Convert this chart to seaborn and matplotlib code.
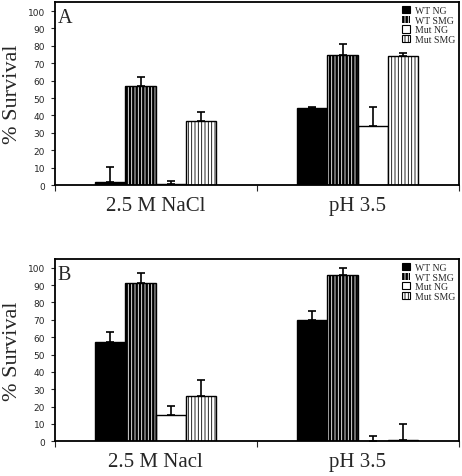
import matplotlib
matplotlib.use("Agg")
import matplotlib.pyplot as plt
import matplotlib.patches as mpatches
import seaborn as sns
import pandas as pd
import numpy as np

# ---- data ----
strains = ["WT NG", "WT SMG", "Mut NG", "Mut SMG"]
conditions_A = ["2.5 M NaCl", "pH 3.5"]
conditions_B = ["2.5 M Nacl", "pH 3.5"]

A_nacl = [2, 57, 0.7, 37]
A_ph = [44, 75, 34, 74]
A_nacl_err = [8.5, 5, 1.8, 5]
A_ph_err = [0.7, 6, 11, 2]

B_nacl = [57, 91, 15, 26]
B_ph = [70, 96, 0.3, 0.8]
B_nacl_err = [6, 6, 5.5, 9.5]
B_ph_err = [5, 4, 3, 9]

yticks = list(range(0, 101, 10))

# ---- styles ----
face = {"WT NG": "black", "WT SMG": "black", "Mut NG": "white", "Mut SMG": "white"}
hatchc = {"WT NG": None, "WT SMG": "white", "Mut NG": None, "Mut SMG": "black"}
HATCH = "|||||"

sns.set_style("white")
plt.rcParams["hatch.linewidth"] = 0.6
SERIF = ["Liberation Serif", "DejaVu Serif"]
SANS = ["DejaVu Sans"]

fig = plt.figure(figsize=(4.62, 4.77), dpi=100)
axA = fig.add_axes([0.1184, 0.610, 0.8745, 0.383])
axB = fig.add_axes([0.1184, 0.0727, 0.8745, 0.382])


def panel(ax, conds, v1, v2, e1, e2, letter):
    rows = []
    for s, a, b in zip(strains, v1, v2):
        rows.append({"cond": conds[0], "strain": s, "val": a})
        rows.append({"cond": conds[1], "strain": s, "val": b})
    df = pd.DataFrame(rows)
    errs = {s: (a, b) for s, a, b in zip(strains, e1, e2)}
    sns.barplot(data=df, x="cond", y="val", hue="strain", order=conds,
                hue_order=strains, width=0.6, errorbar=None, legend=False,
                palette=[face[s] for s in strains], saturation=1, ax=ax)
    for cont, s in zip(ax.containers, strains):
        xs, tops = [], []
        for p in cont.patches:
            p.set_facecolor(face[s])
            if hatchc[s] is not None:
                p.set_hatch(HATCH)
                p.set_edgecolor(hatchc[s])
                p.set_linewidth(0)
                ax.add_patch(mpatches.Rectangle(p.get_xy(), p.get_width(), p.get_height(),
                                                fill=False, ec="black", lw=1.0, zorder=p.get_zorder() + 0.1))
            else:
                p.set_edgecolor("black")
                p.set_linewidth(1.0)
            xs.append(p.get_x() + p.get_width() / 2)
            tops.append(p.get_height())
        up = np.array(errs[s])
        ax.errorbar(xs, tops, yerr=[np.zeros_like(up), up], fmt="none",
                    ecolor="black", elinewidth=1.2, capsize=3, capthick=1.2, zorder=5)
    ax.set_xlim(-0.5, 1.5)
    ax.set_ylim(0, 105)
    ax.set_yticks(yticks)
    ax.set_yticklabels([str(t) for t in yticks], fontsize=6.5, family=SANS)
    ax.set_xticks([0, 1])
    ax.set_xticklabels(conds, fontsize=15, family=SERIF)
    ax.set_xticks([-0.5, 0.5, 1.5], minor=True)
    ax.tick_params(axis="x", which="major", length=0, pad=8)
    ax.tick_params(axis="x", which="minor", length=4, width=0.8, direction="out", bottom=True)
    ax.tick_params(axis="y", length=3, width=0.8, direction="out", left=True, pad=4)
    ax.set_xlabel("")
    ax.set_ylabel("% Survival", fontsize=16, family=SERIF, labelpad=4)
    for sp in ax.spines.values():
        sp.set_visible(True)
        sp.set_color("black")
        sp.set_linewidth(1.3)
    ax.text(0.008, 0.968, letter, transform=ax.transAxes, ha="left", va="top",
            fontsize=14.5, family=SERIF)
    handles = []
    for s in strains:
        if hatchc[s] is None:
            handles.append(mpatches.Patch(fc=face[s], ec="black", lw=0.8, label=s))
        elif face[s] == "black":
            handles.append(mpatches.Patch(fc=face[s], ec=hatchc[s], hatch=HATCH, lw=0, label=s))
        else:
            handles.append(mpatches.Patch(fc=face[s], ec="black", hatch=HATCH, lw=0.8, label=s))
    ax.legend(handles=handles, loc="upper right", frameon=False,
              prop={"family": SERIF, "size": 7}, handlelength=0.75, handleheight=0.75,
              handletextpad=0.5, labelspacing=0.06, borderaxespad=0.2, borderpad=0.2)


panel(axA, conditions_A, A_nacl, A_ph, A_nacl_err, A_ph_err, "A")
panel(axB, conditions_B, B_nacl, B_ph, B_nacl_err, B_ph_err, "B")

fig.savefig("out.png", dpi=100)
